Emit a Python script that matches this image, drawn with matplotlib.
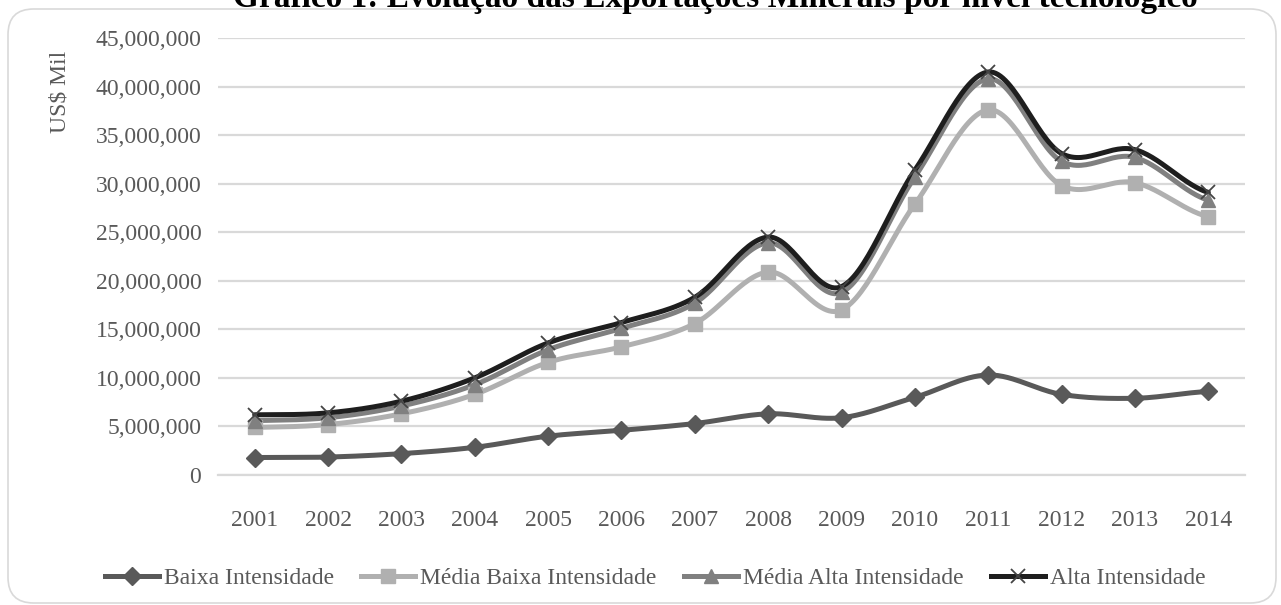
import numpy as np
import matplotlib
matplotlib.use("Agg")
import matplotlib.pyplot as plt
from matplotlib.patches import FancyBboxPatch
from matplotlib.ticker import FuncFormatter, MultipleLocator
from matplotlib.lines import Line2D

years = [str(y) for y in range(2001, 2015)]
baixa = [1.8, 1.85, 2.2, 2.85, 4.0, 4.6, 5.3, 6.3, 5.9, 8.0, 10.3, 8.3, 7.9, 8.6]
media_baixa = [4.9, 5.2, 6.3, 8.3, 11.6, 13.2, 15.6, 20.9, 17.0, 27.9, 37.6, 29.8, 30.1, 26.6]
media_alta = [5.6, 5.9, 7.1, 9.3, 12.9, 15.1, 17.7, 23.9, 18.8, 30.7, 40.8, 32.3, 32.7, 28.3]
alta = [6.2, 6.4, 7.6, 10.0, 13.6, 15.7, 18.3, 24.5, 19.4, 31.4, 41.5, 33.1, 33.5, 29.1]
scale = 1e6

series = [
    ("Baixa Intensidade", baixa, "#595959", "D", 9),
    ("Média Baixa Intensidade", media_baixa, "#b0b0b0", "s", 10),
    ("Média Alta Intensidade", media_alta, "#808080", "^", 10),
    ("Alta Intensidade", alta, "#1e1e1e", "x", 10),
]

def smooth(xs, ys, n=30):
    xs = np.asarray(xs, float); ys = np.asarray(ys, float)
    px = np.concatenate([[2 * xs[0] - xs[1]], xs, [2 * xs[-1] - xs[-2]]])
    py = np.concatenate([[ys[0]], ys, [ys[-1]]])
    ox, oy = [], []
    for i in range(1, len(px) - 2):
        t = np.linspace(0, 1, n, endpoint=False)
        p0x, p1x, p2x, p3x = px[i-1:i+3]
        p0y, p1y, p2y, p3y = py[i-1:i+3]
        c1x = p1x + (p2x - p0x) / 6; c1y = p1y + (p2y - p0y) / 6
        c2x = p2x - (p3x - p1x) / 6; c2y = p2y - (p3y - p1y) / 6
        b = lambda a, b_, c, d: ((1-t)**3)*a + 3*((1-t)**2)*t*b_ + 3*(1-t)*t*t*c + t**3*d
        ox.append(b(p1x, c1x, c2x, p2x)); oy.append(b(p1y, c1y, c2y, p2y))
    ox.append([xs[-1]]); oy.append([ys[-1]])
    return np.concatenate(ox), np.concatenate(oy)

plt.rcParams['font.family'] = ['Liberation Serif', 'DejaVu Serif']
text_color = "#595959"
FS = 17

fig = plt.figure(figsize=(12.81, 6.05), dpi=100)
W, H = 1281, 605
border = FancyBboxPatch((8 / W, 2 / H), 1268 / W, 594 / H,
                        boxstyle="round,pad=0,rounding_size=0.02",
                        transform=fig.transFigure, facecolor="none",
                        edgecolor="#d9d9d9", linewidth=1.2, mutation_aspect=W / H,
                        zorder=-1)
fig.patches.append(border)

ax = fig.add_axes([218 / W, 1 - 475 / H, (1245 - 218) / W, (475 - 38) / H])
ax.set_facecolor("none")
x = np.arange(len(years))
handles = []
for name, vals, col, mk, ms in series:
    v = np.array(vals) * scale
    sx, sy = smooth(x, v)
    ax.plot(sx, sy, color=col, lw=3.6, solid_capstyle="round", zorder=3)
    if mk == "x":
        ax.plot(x, v, ls="none", marker=mk, ms=ms, mec="#444444", mew=1.3, zorder=4)
        handles.append(Line2D([], [], color=col, lw=3.6, marker=mk, ms=ms, mec="#444444", mew=1.3))
    else:
        ax.plot(x, v, ls="none", marker=mk, ms=ms, color=col, mec=col, zorder=4)
        handles.append(Line2D([], [], color=col, lw=3.6, marker=mk, ms=ms, mec=col))

ax.set_xlim(-0.5, len(years) - 0.5)
ax.set_ylim(0, 45e6)
ax.yaxis.set_major_locator(MultipleLocator(5e6))
ax.yaxis.set_major_formatter(FuncFormatter(lambda v, p: f"{v:,.0f}"))
ax.set_xticks(x)
ax.set_xticklabels(years)
ax.grid(axis="y", color="#d9d9d9", lw=1.6)
ax.set_axisbelow(True)
for s in ["top", "right", "left"]:
    ax.spines[s].set_visible(False)
ax.spines["bottom"].set_color("#d9d9d9")
ax.spines["bottom"].set_linewidth(1.6)
ax.tick_params(axis="both", length=0, labelsize=FS, colors=text_color)
ax.tick_params(axis="y", pad=12)
ax.tick_params(axis="x", pad=25)

fig.text(60 / W, 1 - 92 / H, "US$ Mil", rotation=90, ha="center", va="center",
         fontsize=FS, color=text_color)
fig.text(715 / W, 1 - 7 / H, "Gráfico 1: Evolução das Exportações Minerais por nível tecnológico",
         ha="center", va="baseline", fontsize=24, fontweight="bold", color="#000000")

fig.legend(handles, [s[0] for s in series], loc="center", bbox_to_anchor=(655 / W, 1 - 578 / H),
           ncol=4, frameon=False, fontsize=FS, labelcolor=text_color,
           handlelength=2.3, handletextpad=0.2, columnspacing=1.15)

fig.savefig("out.png", dpi=100)
